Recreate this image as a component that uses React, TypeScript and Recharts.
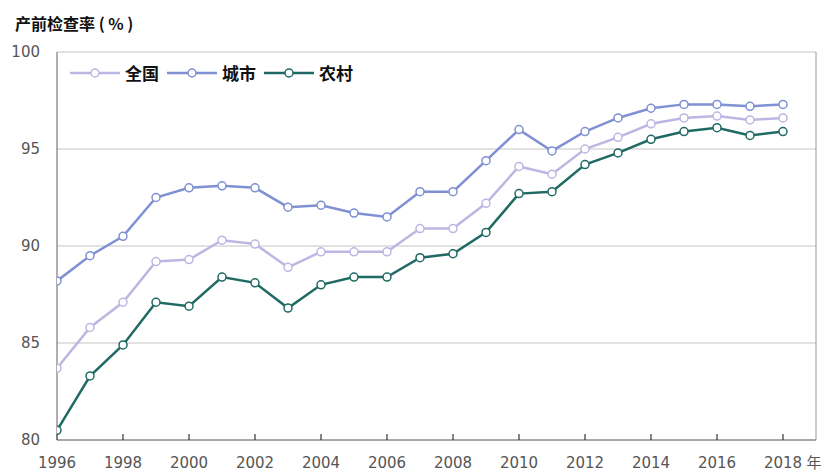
import {
  LineChart,
  Line,
  XAxis,
  YAxis,
  CartesianGrid,
  Legend,
  ReferenceLine,
} from "recharts";

const years = [
  1996, 1997, 1998, 1999, 2000, 2001, 2002, 2003, 2004, 2005, 2006, 2007,
  2008, 2009, 2010, 2011, 2012, 2013, 2014, 2015, 2016, 2017, 2018,
];
const national = [
  83.7, 85.8, 87.1, 89.2, 89.3, 90.3, 90.1, 88.9, 89.7, 89.7, 89.7, 90.9,
  90.9, 92.2, 94.1, 93.7, 95.0, 95.6, 96.3, 96.6, 96.7, 96.5, 96.6,
];
const urban = [
  88.2, 89.5, 90.5, 92.5, 93.0, 93.1, 93.0, 92.0, 92.1, 91.7, 91.5, 92.8,
  92.8, 94.4, 96.0, 94.9, 95.9, 96.6, 97.1, 97.3, 97.3, 97.2, 97.3,
];
const rural = [
  80.5, 83.3, 84.9, 87.1, 86.9, 88.4, 88.1, 86.8, 88.0, 88.4, 88.4, 89.4,
  89.6, 90.7, 92.7, 92.8, 94.2, 94.8, 95.5, 95.9, 96.1, 95.7, 95.9,
];
const xTicks = [1996, 1998, 2000, 2002, 2004, 2006, 2008, 2010, 2012, 2014, 2016, 2018];
const yTicks = [80, 85, 90, 95, 100];

const series = [
  { key: "national", name: "全国", color: "#bdb6e3" },
  { key: "urban", name: "城市", color: "#7f90d3" },
  { key: "rural", name: "农村", color: "#1f6a63" },
];

const data = years.map((year, i) => ({
  year,
  national: national[i],
  urban: urban[i],
  rural: rural[i],
}));

const FONT = "'DejaVu Sans', 'Noto Sans CJK SC', sans-serif";

function XTick(props: any) {
  const { x, y, payload } = props;
  return (
    <g>
      <text x={x} y={y} dy={12} textAnchor="middle" fill="#555" fontSize={15} fontFamily={FONT}>
        {payload.value}
      </text>
      {payload.value === 2018 && (
        <text x={x + 31} y={y} dy={12} textAnchor="middle" fill="#555" fontSize={15} fontFamily="'Noto Sans CJK SC', sans-serif">
          年
        </text>
      )}
    </g>
  );
}

function LegendContent() {
  return (
    <div style={{ display: "flex", alignItems: "center", fontFamily: "'Noto Sans CJK SC', sans-serif" }}>
      {series.map((s) => (
        <div key={s.key} style={{ display: "flex", alignItems: "center", marginRight: 8 }}>
          <svg width={50} height={12}>
            <line x1={0} y1={6} x2={50} y2={6} stroke={s.color} strokeWidth={2.5} />
            <circle cx={25} cy={6} r={4} fill="#fff" stroke={s.color} strokeWidth={1.5} />
          </svg>
          <span style={{ fontSize: 17, fontWeight: 700, color: "#111", marginLeft: 5, lineHeight: "20px" }}>
            {s.name}
          </span>
        </div>
      ))}
    </div>
  );
}

export default function App() {
  return (
    <div style={{ position: "relative", width: 824, height: 466 }}>
      <div
        style={{
          position: "absolute",
          left: 7,
          top: 3,
          fontFamily: "'Noto Sans CJK SC', sans-serif",
          fontSize: 16,
          fontWeight: 700,
          color: "#111",
          whiteSpace: "nowrap",
        }}
      >
        产前检查率 ( % )
      </div>
      <LineChart
        width={824}
        height={466}
        data={data}
        margin={{ top: 44, right: 16, bottom: 4, left: 0 }}
      >
        <CartesianGrid vertical={false} stroke="#c4c4c4" strokeWidth={1} />
        <XAxis
          dataKey="year"
          type="number"
          domain={[1996, 2019]}
          ticks={xTicks}
          allowDataOverflow
          height={30}
          axisLine={{ stroke: "#6e6e6e", strokeWidth: 1.2 }}
          tickLine={{ stroke: "#333", strokeWidth: 1.2 }}
          tickSize={-6}
          tickMargin={22}
          tick={<XTick />}
        />
        <YAxis
          domain={[80, 100]}
          ticks={yTicks}
          width={49}
          axisLine={{ stroke: "#7a7a7a", strokeWidth: 1.2 }}
          tickLine={false}
          tickSize={0}
          tickMargin={17}
          tick={{ fill: "#555", fontSize: 15, fontFamily: FONT }}
        />
        <ReferenceLine x={2019} stroke="#9a9a9a" strokeWidth={1} />
        <Legend
          layout="horizontal"
          verticalAlign="middle"
          align="center"
          content={<LegendContent />}
          wrapperStyle={{ top: 55, left: 62, width: "auto" }}
        />
        {series.map((s) => (
          <Line
            key={s.key}
            dataKey={s.key}
            name={s.name}
            stroke={s.color}
            strokeWidth={2.5}
            dot={{ r: 4, fill: "#fff", stroke: s.color, strokeWidth: 1.5 }}
            activeDot={false}
            isAnimationActive={false}
          />
        ))}
      </LineChart>
    </div>
  );
}
